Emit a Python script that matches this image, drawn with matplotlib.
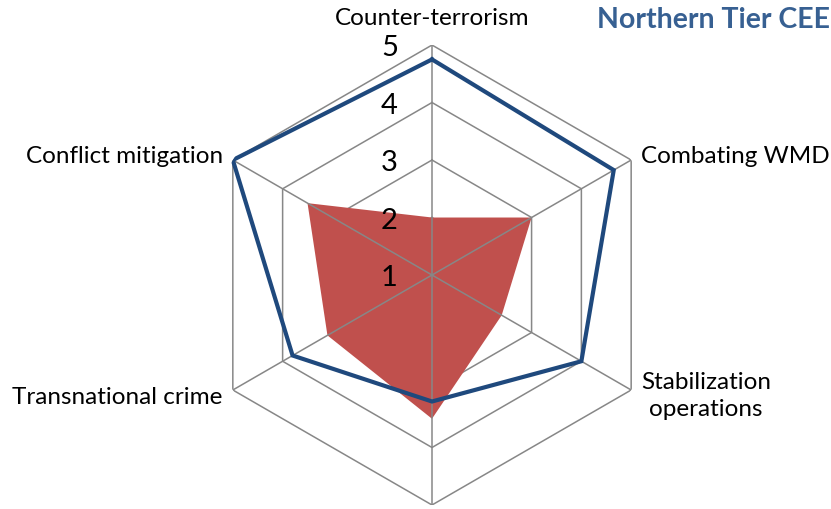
import numpy as np
import matplotlib.pyplot as plt
from matplotlib.transforms import offset_copy

plt.rcParams['font.family'] = ['Lato', 'DejaVu Sans']

# data
categories = ['Counter-terrorism', 'Combating WMD', 'Stabilization\noperations', '',
              'Transnational crime', 'Conflict mitigation']
northern_tier = [4.75, 4.65, 4.0, 3.2, 3.8, 5.0]
other_series = [2.0, 3.0, 2.4, 3.5, 3.1, 3.5]
rings = [2, 3, 4, 5]
tick_labels = ['1', '2', '3', '4', '5']
title = 'Northern Tier CEE'

n = len(categories)
theta = np.arange(n) * 2 * np.pi / n
theta_closed = np.append(theta, theta[0])

fig = plt.figure(figsize=(8.31, 5.10), dpi=100)
ax = fig.add_axes([0.2431, 0.0078, 0.5535, 0.902], projection='polar')
ax.set_theta_zero_location('N')
ax.set_theta_direction(-1)
ax.set_ylim(1, 5)
ax.grid(False)
ax.spines['polar'].set_visible(False)
ax.set_xticks([])
ax.set_yticks([])
ax.patch.set_visible(False)

grid_col = '#878787'
# hexagon rings (under the fill)
for r in rings:
    ax.plot(theta_closed, [r] * (n + 1), color=grid_col, lw=1.1, zorder=1)

# red area
ax.fill(theta_closed, other_series + other_series[:1], color='#C0504D', lw=0, zorder=2)

# spokes on top of the fill
for t in theta:
    ax.plot([t, t], [1, 5], color=grid_col, lw=1.1, zorder=3)

# blue line
ax.plot(theta_closed, northern_tier + northern_tier[:1], color='#1F497D', lw=3.0,
        zorder=4, solid_joinstyle='miter')

# radial tick labels
tr = offset_copy(ax.transData, fig=fig, x=-34, y=-2, units='dots')
for i, lab in enumerate(tick_labels):
    ax.text(0, i + 1, lab, transform=tr, ha='right', va='center', fontsize=21, color='black')

# category labels
label_offsets = [(0, 28, 'center'), (10, 5, 'left'), (10, -5, 'left'),
                 (0, -20, 'center'), (-10, -6, 'right'), (-10, 5, 'right')]
for t, lab, (dx, dy, ha) in zip(theta, categories, label_offsets):
    trl = offset_copy(ax.transData, fig=fig, x=dx, y=dy, units='dots')
    ax.text(t, 5, lab, transform=trl, ha=ha, va='center', multialignment='center',
            fontsize=17.5, color='black', linespacing=1.4)

fig.text(0.999, 0.961, title, ha='right', va='center', fontsize=20.5, fontweight='bold',
         color='#376092')

fig.savefig('out.png', dpi=100)
